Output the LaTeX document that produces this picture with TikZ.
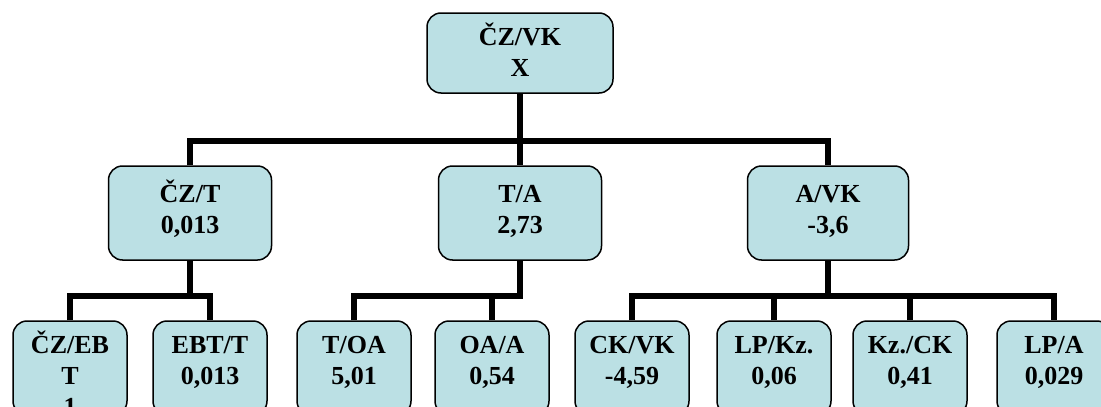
\documentclass[tikz,border=0pt]{standalone}
\usepackage{fontspec}
\setmainfont{Liberation Serif}
\definecolor{boxfill}{RGB}{187,224,228}
\begin{document}
\begin{tikzpicture}[x=1pt,y=-1pt,
  box/.style={draw=black, line width=1.5pt, fill=boxfill, rounded corners=14pt,
    minimum height=#1, inner sep=0pt},
  box/.default=94pt,
  lbl/.style={anchor=base, inner sep=0pt, font=\bfseries\fontsize{26}{31}\selectfont},
  conn/.style={line width=6pt, line join=miter}]
\clip (0,0) rectangle (1101,407);
% boxes
\node[box=80pt, minimum width=186pt] (top) at (520,53) {};
\node[box, minimum width=163pt] (m1) at (190,213) {};
\node[box, minimum width=163pt] (m2) at (520,213) {};
\node[box, minimum width=161pt] (m3) at (828,213) {};
\foreach \n/\x in {b1/70,b2/210,b3/354,b4/492,b5/632,b6/774,b7/910,b8/1054}
  \node[box, minimum width=114pt] (\n) at (\x,368) {};
% labels
\node[lbl] (ttop) at (520,45) {\begin{tabular}[t]{@{}c@{}}ČZ/VK\\X\end{tabular}};
\node[lbl] (tm1) at (190,202) {\begin{tabular}[t]{@{}c@{}}ČZ/T\\0,013\end{tabular}};
\node[lbl] (tm2) at (520,202) {\begin{tabular}[t]{@{}c@{}}T/A\\2,73\end{tabular}};
\node[lbl] (tm3) at (828,202) {\begin{tabular}[t]{@{}c@{}}A/VK\\-3,6\end{tabular}};
\node[lbl] (tb1) at (70,353) {\begin{tabular}[t]{@{}c@{}}ČZ/EB\\T\\1\end{tabular}};
\node[lbl] (tb2) at (210,353) {\begin{tabular}[t]{@{}c@{}}EBT/T\\0,013\end{tabular}};
\node[lbl] (tb3) at (354,353) {\begin{tabular}[t]{@{}c@{}}T/OA\\5,01\end{tabular}};
\node[lbl] (tb4) at (492,353) {\begin{tabular}[t]{@{}c@{}}OA/A\\0,54\end{tabular}};
\node[lbl] (tb5) at (632,353) {\begin{tabular}[t]{@{}c@{}}CK/VK\\-4,59\end{tabular}};
\node[lbl] (tb6) at (774,353) {\begin{tabular}[t]{@{}c@{}}LP/Kz.\\0,06\end{tabular}};
\node[lbl] (tb7) at (910,353) {\begin{tabular}[t]{@{}c@{}}Kz./CK\\0,41\end{tabular}};
\node[lbl] (tb8) at (1054,353) {\begin{tabular}[t]{@{}c@{}}LP/A\\0,029\end{tabular}};
% bar levels
\coordinate (bar1) at (0,141);
\coordinate (bar2) at (0,296);
% connectors
\draw[conn] (top.south) -- (m2.north);
\draw[conn] (m1.north) -- (m1.north |- bar1) -- (m3.north |- bar1) -- (m3.north);
\draw[conn] (m1.south) -- (m1.south |- bar2);
\draw[conn] (b1.north) -- (b1.north |- bar2) -- (b2.north |- bar2) -- (b2.north);
\draw[conn] (b3.north) -- (b3.north |- bar2) -- (m2.south |- bar2) -- (m2.south);
\draw[conn] (b4.north) -- (b4.north |- bar2);
\draw[conn] (b5.north) -- (b5.north |- bar2) -- (b8.north |- bar2) -- (b8.north);
\draw[conn] (m3.south) -- (m3.south |- bar2);
\draw[conn] (b6.north) -- (b6.north |- bar2);
\draw[conn] (b7.north) -- (b7.north |- bar2);
\end{tikzpicture}
\end{document}
